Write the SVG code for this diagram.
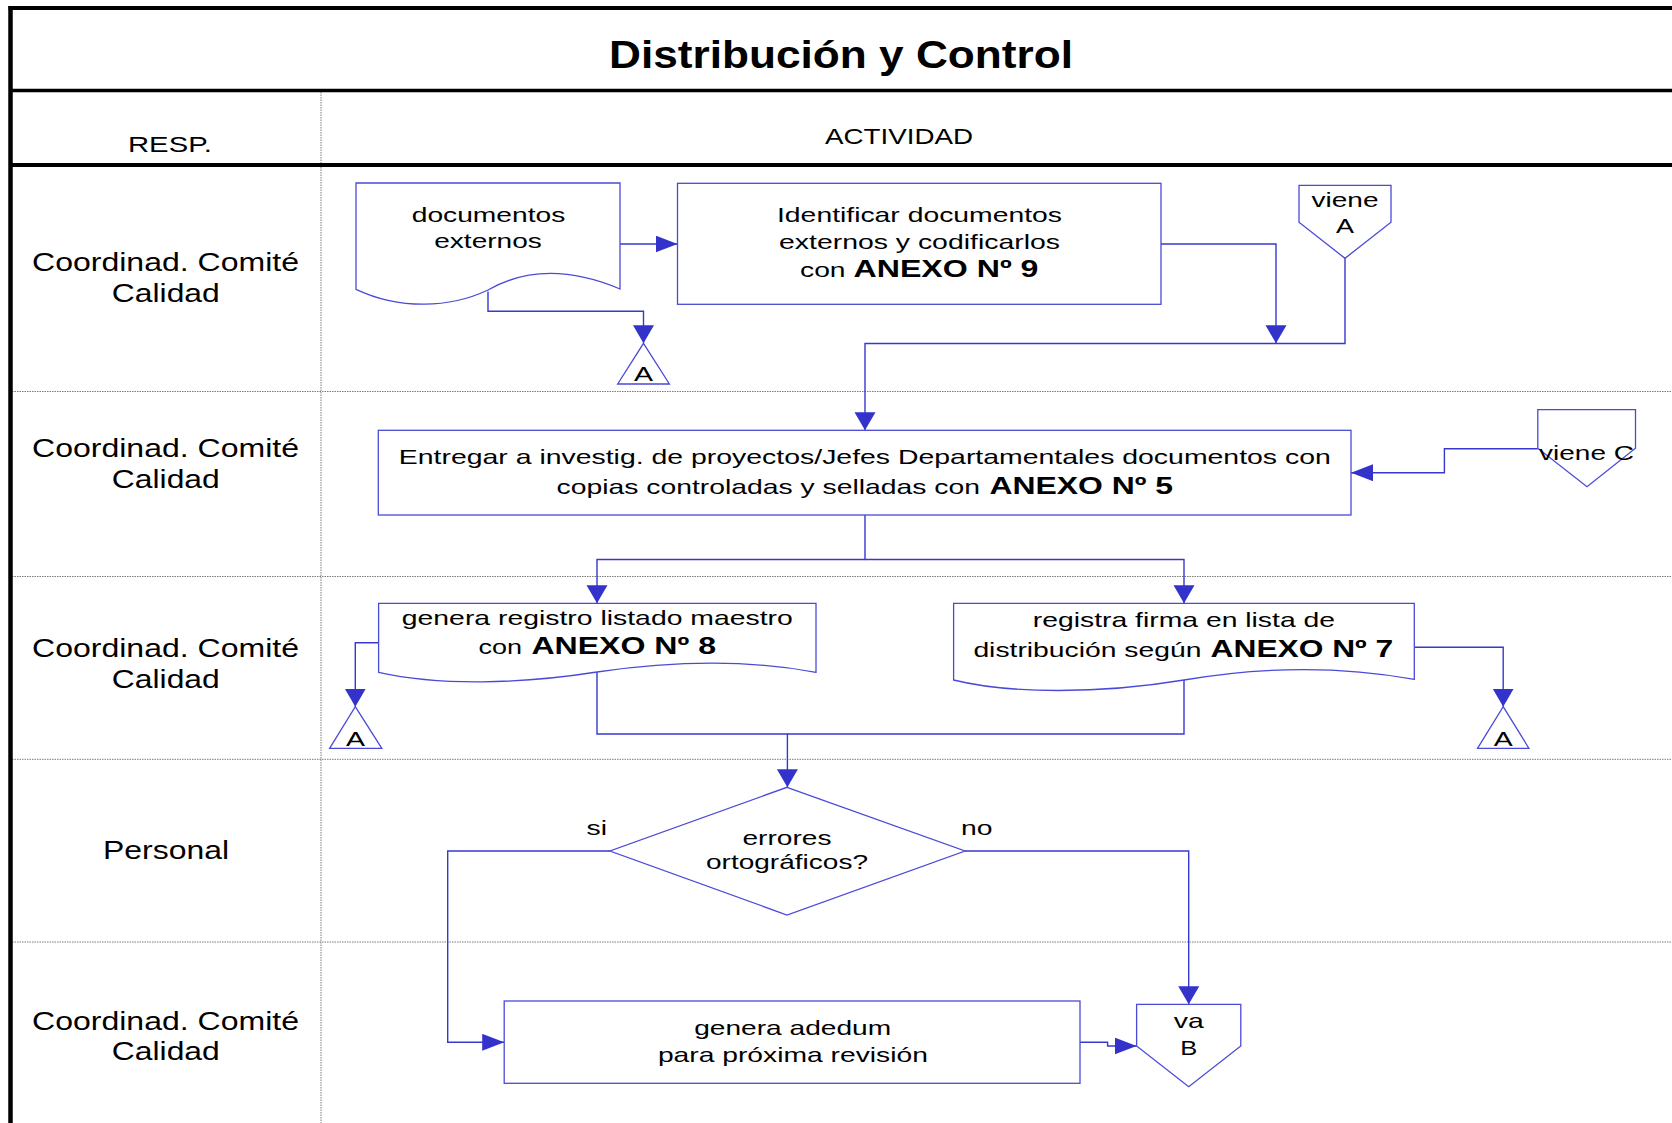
<svg xmlns="http://www.w3.org/2000/svg" width="1672" height="1123" viewBox="0 0 1672 1123">
  <style>
    text { font-family: "Liberation Sans", Arial, sans-serif; fill: #000; }
    .title { font-size: 38px; font-weight: bold; }
    .hdr { font-size: 21.5px; }
    .lane { font-size: 26px; }
    .t { font-size: 21px; }
    .b { font-size: 24px; font-weight: bold; }
    .conn { font-size: 21px; }
    .frame { stroke: #000; fill: none; }
    .grid { stroke: #7a7a7a; stroke-width: 1; stroke-dasharray: 1.5 1; fill: none; }
    .node { fill: #fff; stroke: #4a4ad8; stroke-width: 1.3; }
    .edge { fill: none; stroke: #3838cf; stroke-width: 1.4; }
  </style>
  <defs>
    <marker id="ah" markerUnits="userSpaceOnUse" markerWidth="23" markerHeight="18" refX="22" refY="8.5" orient="auto">
      <path d="M0,0 L22,8.5 L0,17 z" fill="#3333cc"/>
    </marker>
    <marker id="av" markerUnits="userSpaceOnUse" markerWidth="19" markerHeight="22" refX="18" refY="10.5" orient="auto">
      <path d="M0,0 L18,10.5 L0,21 z" fill="#3333cc"/>
    </marker>
  </defs>

  <rect width="1672" height="1123" fill="#fff"/>

  <!-- table frame -->
  <g id="frame">
    <line class="grid" x1="321" y1="92" x2="321" y2="1123"/>
    <line class="grid" x1="12" y1="391.5" x2="1672" y2="391.5"/>
    <line class="grid" x1="12" y1="576.5" x2="1672" y2="576.5"/>
    <line class="grid" x1="12" y1="759.3" x2="1672" y2="759.3"/>
    <line class="grid" x1="12" y1="942" x2="1672" y2="942"/>
    <line class="frame" x1="8.5" y1="8" x2="1672" y2="8" stroke-width="4"/>
    <line class="frame" x1="10.5" y1="6" x2="10.5" y2="1123" stroke-width="4.5"/>
    <line class="frame" x1="10" y1="90.5" x2="1672" y2="90.5" stroke-width="3.5"/>
    <line class="frame" x1="10" y1="165" x2="1672" y2="165" stroke-width="4"/>
    <text class="title" x="841" y="67.5" text-anchor="middle" textLength="464" lengthAdjust="spacingAndGlyphs">Distribución y Control</text>
    <text class="hdr" x="170" y="151.7" text-anchor="middle" textLength="84" lengthAdjust="spacingAndGlyphs">RESP.</text>
    <text class="hdr" x="899" y="144.3" text-anchor="middle" textLength="148" lengthAdjust="spacingAndGlyphs">ACTIVIDAD</text>
  </g>

  <!-- responsible of each lane -->
  <g id="lanes">
    <text class="lane" x="165.5" y="270.7" text-anchor="middle" textLength="267" lengthAdjust="spacingAndGlyphs">Coordinad. Comité</text>
    <text class="lane" x="165.8" y="301.7" text-anchor="middle" textLength="108" lengthAdjust="spacingAndGlyphs">Calidad</text>
    <text class="lane" x="165.5" y="457.3" text-anchor="middle" textLength="267" lengthAdjust="spacingAndGlyphs">Coordinad. Comité</text>
    <text class="lane" x="165.8" y="488.3" text-anchor="middle" textLength="108" lengthAdjust="spacingAndGlyphs">Calidad</text>
    <text class="lane" x="165.5" y="657.3" text-anchor="middle" textLength="267" lengthAdjust="spacingAndGlyphs">Coordinad. Comité</text>
    <text class="lane" x="165.8" y="688.3" text-anchor="middle" textLength="108" lengthAdjust="spacingAndGlyphs">Calidad</text>
    <text class="lane" x="166" y="859.3" text-anchor="middle" textLength="126" lengthAdjust="spacingAndGlyphs">Personal</text>
    <text class="lane" x="165.5" y="1030" text-anchor="middle" textLength="267" lengthAdjust="spacingAndGlyphs">Coordinad. Comité</text>
    <text class="lane" x="165.8" y="1060" text-anchor="middle" textLength="108" lengthAdjust="spacingAndGlyphs">Calidad</text>
  </g>

  <!-- connectors -->
  <g id="connectors">
    <path class="edge" d="M488,291.5 V311.3 H643.5 V343.3" marker-end="url(#av)"/>
    <path class="edge" d="M620,244 H677.5" marker-end="url(#ah)"/>
    <path class="edge" d="M1161,244 H1276 V343.3" marker-end="url(#av)"/>
    <path class="edge" d="M1345,258.3 V343.5 H865 V430.3" marker-end="url(#av)"/>
    <path class="edge" d="M1537.8,448.7 H1444.4 V472.7 H1351" marker-end="url(#ah)"/>
    <path class="edge" d="M865,515 V559.5 H597 V603.3" marker-end="url(#av)"/>
    <path class="edge" d="M865,559.5 H1184 V603.3" marker-end="url(#av)"/>
    <path class="edge" d="M378.6,642.7 H355.3 V706.7" marker-end="url(#av)"/>
    <path class="edge" d="M1414.3,647.3 H1503.2 V706.7" marker-end="url(#av)"/>
    <path class="edge" d="M597,672 V734 H787.4 V787.3" marker-end="url(#av)"/>
    <path class="edge" d="M1184,680 V734 H787.4"/>
    <path class="edge" d="M610,851 H447.7 V1042.3 H504.2" marker-end="url(#ah)"/>
    <path class="edge" d="M965,851 H1188.7 V1004.3" marker-end="url(#av)"/>
    <path class="edge" d="M1080,1042.3 H1107.6 V1046 H1136.6" marker-end="url(#ah)"/>
    <text class="t" x="596.8" y="834.5" text-anchor="middle" textLength="20.5" lengthAdjust="spacingAndGlyphs">si</text>
    <text class="t" x="976.8" y="834.5" text-anchor="middle" textLength="31.5" lengthAdjust="spacingAndGlyphs">no</text>
  </g>

  <g id="doc-externos">
    <path class="node" d="M356,183 H620 V289 C575,270 530,266 488,290 C450,308 400,310 356,289.3 Z"/>
    <text class="t" x="488.5" y="221.7" text-anchor="middle" textLength="153.5" lengthAdjust="spacingAndGlyphs">documentos</text>
    <text class="t" x="488" y="248.3" text-anchor="middle" textLength="107.5" lengthAdjust="spacingAndGlyphs">externos</text>
  </g>

  <g id="identificar">
    <rect class="node" x="677.5" y="183.3" width="483.5" height="121"/>
    <text class="t" x="919.5" y="222" text-anchor="middle" textLength="285" lengthAdjust="spacingAndGlyphs">Identificar documentos</text>
    <text class="t" x="919.5" y="248.5" text-anchor="middle" textLength="281" lengthAdjust="spacingAndGlyphs">externos y codificarlos</text>
    <text class="t" x="800" y="277" textLength="45.6" lengthAdjust="spacingAndGlyphs">con</text>
    <text class="b" x="853.5" y="277" textLength="185" lengthAdjust="spacingAndGlyphs">ANEXO Nº 9</text>
  </g>

  <g id="conector-a1">
    <polygon class="node" points="643.5,343.3 669.4,384 617.7,384"/>
    <text class="conn" x="643.5" y="381" text-anchor="middle" textLength="19" lengthAdjust="spacingAndGlyphs">A</text>
  </g>

  <g id="viene-a">
    <polygon class="node" points="1299,185.3 1391,185.3 1391,222.3 1345,258.3 1299,222.3"/>
    <text class="t" x="1345" y="206.7" text-anchor="middle" textLength="67" lengthAdjust="spacingAndGlyphs">viene</text>
    <text class="t" x="1345" y="233.3" text-anchor="middle" textLength="18" lengthAdjust="spacingAndGlyphs">A</text>
  </g>

  <g id="entregar">
    <rect class="node" x="378.3" y="430.3" width="972.7" height="84.7"/>
    <text class="t" x="864.8" y="463.5" text-anchor="middle" textLength="932" lengthAdjust="spacingAndGlyphs">Entregar a investig. de proyectos/Jefes Departamentales documentos con</text>
    <text class="t" x="556.6" y="493.5" textLength="423.4" lengthAdjust="spacingAndGlyphs">copias controladas y selladas con</text>
    <text class="b" x="989.5" y="493.5" textLength="183.5" lengthAdjust="spacingAndGlyphs">ANEXO Nº 5</text>
  </g>

  <g id="viene-c">
    <polygon class="node" points="1537.8,409.7 1635.5,409.7 1635.5,448.3 1587,486.7 1537.8,448.3"/>
    <text class="t" x="1586.5" y="460" text-anchor="middle" textLength="95" lengthAdjust="spacingAndGlyphs">viene C</text>
  </g>

  <g id="listado-maestro">
    <path class="node" d="M378.6,603.3 H816 V672.3 C750,660 680,660 597,672 C520,684 440,686 378.6,672.3 Z"/>
    <text class="t" x="597.3" y="625" text-anchor="middle" textLength="391" lengthAdjust="spacingAndGlyphs">genera registro listado maestro</text>
    <text class="t" x="478.5" y="654.3" textLength="43.5" lengthAdjust="spacingAndGlyphs">con</text>
    <text class="b" x="531.4" y="654.3" textLength="184.6" lengthAdjust="spacingAndGlyphs">ANEXO Nº 8</text>
  </g>

  <g id="lista-distribucion">
    <path class="node" d="M953.6,603.3 H1414.3 V679.3 C1340,666 1260,667 1184,680 C1100,694 1010,694 953.6,680 Z"/>
    <text class="t" x="1183.9" y="626.7" text-anchor="middle" textLength="302.3" lengthAdjust="spacingAndGlyphs">registra firma en lista de</text>
    <text class="t" x="973.4" y="657.3" textLength="228" lengthAdjust="spacingAndGlyphs">distribución según</text>
    <text class="b" x="1210.6" y="657.3" textLength="182.5" lengthAdjust="spacingAndGlyphs">ANEXO Nº 7</text>
  </g>

  <g id="conector-a2">
    <polygon class="node" points="355.3,706.7 381.8,748.3 329.6,748.3"/>
    <text class="conn" x="355.5" y="745.5" text-anchor="middle" textLength="19" lengthAdjust="spacingAndGlyphs">A</text>
  </g>

  <g id="conector-a3">
    <polygon class="node" points="1503.2,706.7 1528.9,748.3 1477.5,748.3"/>
    <text class="conn" x="1503.2" y="745.5" text-anchor="middle" textLength="19" lengthAdjust="spacingAndGlyphs">A</text>
  </g>

  <g id="errores">
    <polygon class="node" points="787,787.3 965,851 787,915 610,851"/>
    <text class="t" x="787" y="844.5" text-anchor="middle" textLength="89" lengthAdjust="spacingAndGlyphs">errores</text>
    <text class="t" x="787" y="869" text-anchor="middle" textLength="162" lengthAdjust="spacingAndGlyphs">ortográficos?</text>
  </g>

  <g id="adedum">
    <rect class="node" x="504.2" y="1001" width="575.8" height="82.3"/>
    <text class="t" x="792.7" y="1035" text-anchor="middle" textLength="197" lengthAdjust="spacingAndGlyphs">genera adedum</text>
    <text class="t" x="792.9" y="1061.7" text-anchor="middle" textLength="270" lengthAdjust="spacingAndGlyphs">para próxima revisión</text>
  </g>

  <g id="va-b">
    <polygon class="node" points="1136.6,1004.3 1240.8,1004.3 1240.8,1046 1188.7,1086.7 1136.6,1046"/>
    <text class="t" x="1188.7" y="1028.3" text-anchor="middle" textLength="30" lengthAdjust="spacingAndGlyphs">va</text>
    <text class="t" x="1188.7" y="1055" text-anchor="middle" textLength="17" lengthAdjust="spacingAndGlyphs">B</text>
  </g>
</svg>
